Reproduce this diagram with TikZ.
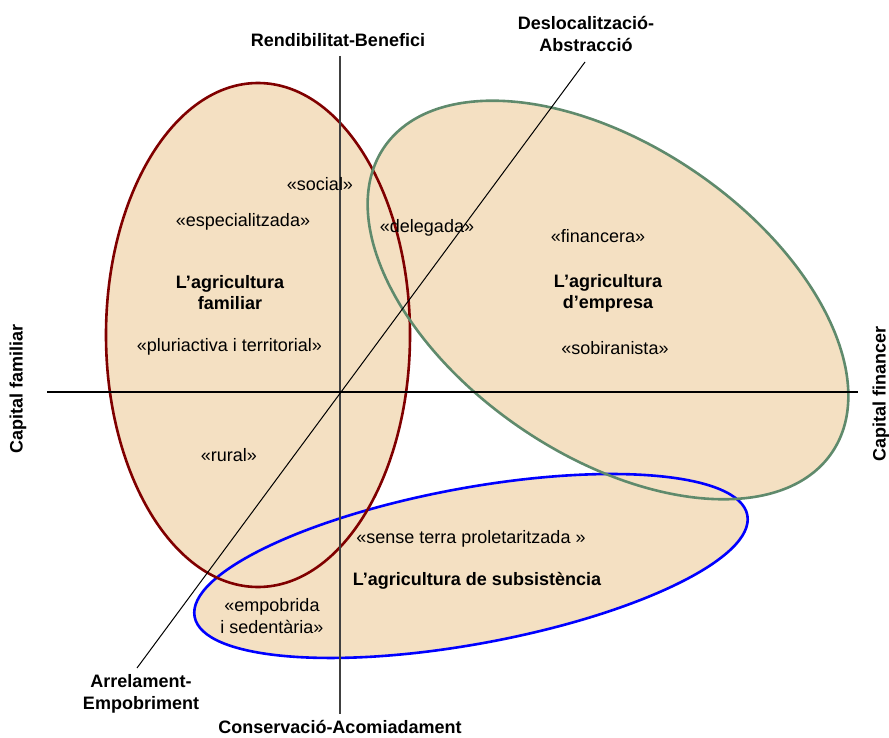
\documentclass[tikz,border=0pt]{standalone}
\usepackage{fontspec}
\setmainfont{Liberation Sans}
\definecolor{fillc}{HTML}{F4E0C2}
\definecolor{redc}{HTML}{800000}
\definecolor{greenc}{HTML}{5F8A6C}
\definecolor{bluec}{HTML}{0000FF}
\definecolor{axisc}{HTML}{404040}
\begin{document}
\begin{tikzpicture}[x=1pt,y=-1pt,
  lbl/.style={font=\fontsize{18}{22}\selectfont, inner sep=0pt, align=center},
  ttl/.style={font=\fontsize{18}{21}\selectfont\bfseries, inner sep=0pt, align=center},
  axl/.style={font=\fontsize{18}{22}\selectfont\bfseries, inner sep=0pt, align=center},
  ring/.style={line width=2.6pt}]
\useasboundingbox (0,0) rectangle (889,738);
% ellipse centres
\coordinate (cr) at (258,335);
\coordinate (cg) at (608,300);
\coordinate (cb) at (471,566);
% fills
\fill[fillc] (cr) ellipse [x radius=152pt, y radius=252pt];
\fill[fillc, rotate around={-34.3:(cg)}] (cg) ellipse [x radius=271pt, y radius=155pt];
\fill[fillc, rotate around={10.4:(cb)}] (cb) ellipse [x radius=281pt, y radius=78pt];
% strokes
\draw[ring, bluec, rotate around={10.4:(cb)}] (cb) ellipse [x radius=281pt, y radius=78pt];
\draw[ring, redc] (cr) ellipse [x radius=152pt, y radius=252pt];
\draw[ring, greenc, rotate around={-34.3:(cg)}] (cg) ellipse [x radius=271pt, y radius=155pt];
% axes
\coordinate (vt) at (340,56);
\coordinate (vb) at (340,714);
\coordinate (hl) at (47,392);
\coordinate (hr) at (858,392);
\coordinate (dl) at (137,668);
\coordinate (du) at (585,62);
\draw[axisc, line width=1.4pt] (vt) -- (vb);
\draw[black, line width=1.4pt] (hl) -- (hr);
\draw[black, line width=1pt] (dl) -- (du);
% axis labels
\node[axl] (ntop) at (338,40) {Rendibilitat-Benefici};
\node[axl] (ndes) at (586,34) {Deslocalització-\\Abstracció};
\node[axl, rotate=90] (nfam) at (18,389) {Capital familiar};
\node[axl, rotate=90] (nfin) at (881,394) {Capital financer};
\node[axl] (narr) at (141,694) {Arrelament-\\Empobriment};
\node[axl] (ncon) at (340,727) {Conservació-Acomiadament};
% inner labels
\node[lbl] (nsoc) at (320,184) {«social»};
\node[lbl] (nesp) at (243,222) {«especialitzada»};
\node[lbl] (ndel) at (427,228) {«delegada»};
\node[ttl] (nagf) at (230,293) {L’agricultura\\familiar};
\node[lbl] (nplu) at (229.5,347) {«pluriactiva i territorial»};
\node[lbl] (nfina) at (598,236) {«financera»};
\node[ttl] (nage) at (608,293) {L’agricultura\\d’empresa};
\node[lbl] (nsob) at (615,348) {«sobiranista»};
\node[lbl] (nrur) at (229,455) {«rural»};
\node[lbl] (nsen) at (471,539) {«sense terra proletaritzada »};
\node[ttl] (nags) at (477,581) {L’agricultura de subsistència};
\node[lbl] (nemp) at (272,616) {«empobrida\\i sedentària»};
\end{tikzpicture}
\end{document}
